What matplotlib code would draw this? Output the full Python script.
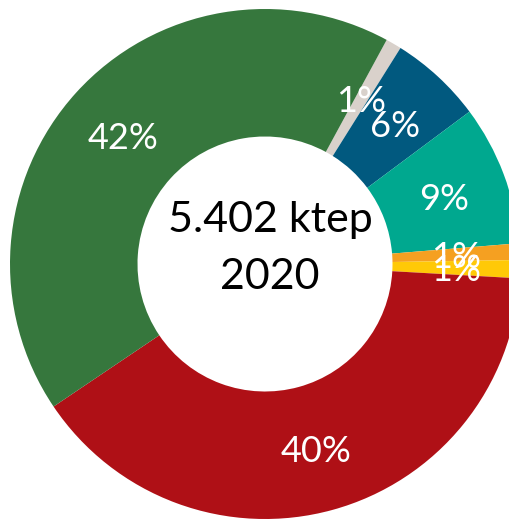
import matplotlib.pyplot as plt

# shares of the 2020 total, clockwise from the top
shares = [1.0, 5.9, 8.9, 1.05, 1.15, 39.7, 42.4]
colors = ['#d9d1cb', '#01597f', '#00a88f', '#f5a021', '#ffc907', '#af1016', '#36773d']
center_lines = ['5.402 ktep', '2020']

plt.rcParams['font.family'] = ['Lato', 'DejaVu Sans']

W, H = 510, 520
fig = plt.figure(figsize=(W / 100, H / 100), dpi=100)
ax = fig.add_axes([0, 0, 1, 1])

# pie centre and outer radius in pixels
cx, cy, R = 265, 264, 255

wedges, texts, autotexts = ax.pie(
    shares, colors=colors, startangle=61.5, counterclock=False,
    radius=1.0, pctdistance=0.75,
    autopct=lambda p: '%.0f%%' % p,
    wedgeprops=dict(width=0.5, linewidth=0),
    textprops=dict(color='white', fontsize=26))

# small offset so the digits sit in the middle of the ring
for t in autotexts:
    x, y = t.get_position()
    t.set_position((x, y - 0.012))

# white hole text
ax.text((270 - cx) / R, (cy - 232) / R, center_lines[0], ha='center', va='baseline',
        fontsize=31, color='black')
ax.text((270 - cx) / R, (cy - 289) / R, center_lines[1], ha='center', va='baseline',
        fontsize=31, color='black')

ax.set_xlim(-cx / R, (W - cx) / R)
ax.set_ylim(-(H - cy) / R, cy / R)
ax.set_aspect('auto')
ax.axis('off')

fig.savefig('out.png', dpi=100)
